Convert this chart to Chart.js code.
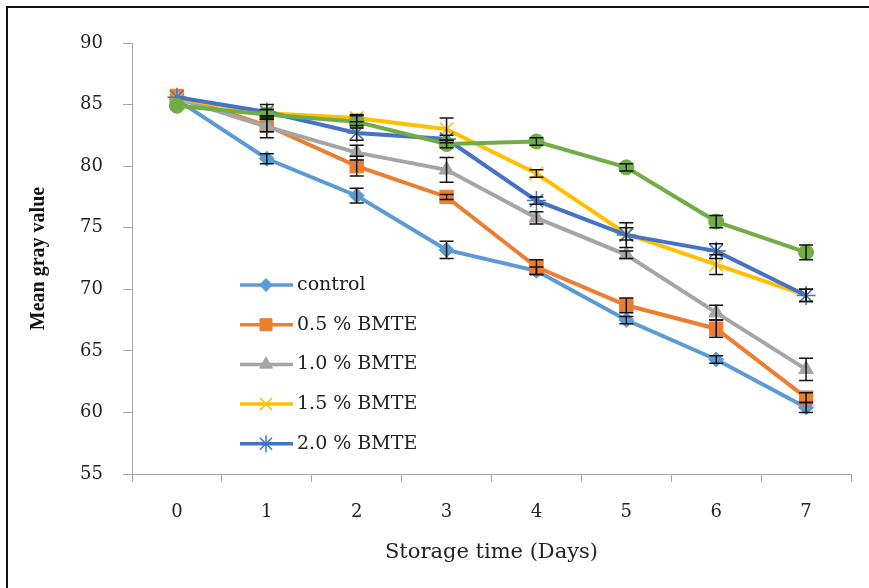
<!DOCTYPE html>
<html>
<head>
<meta charset="utf-8">
<script src="https://cdn.jsdelivr.net/npm/chart.js@4"></script>
<style>
  body { margin: 0; background: #fff; overflow: hidden; }
  #wrap { position: relative; width: 869px; height: 588px; }
  #frame { position: absolute; left: 6px; top: 6px; width: 900px; height: 600px;
           border-left: 2px solid #111; border-top: 2px solid #111; pointer-events: none; }
</style>
</head>
<body>
<div id="wrap">
  <canvas id="grayChart" width="869" height="588"></canvas>
  <div id="frame"></div>
</div>
<script>
// storage days
const days = ["0", "1", "2", "3", "4", "5", "6", "7"];

// mean gray value per series
const control = [85.4, 80.6, 77.6, 73.2, 71.5, 67.5, 64.3, 60.4];
const bmte05 = [85.7, 83.3, 80.0, 77.5, 71.8, 68.7, 66.8, 61.2];
const bmte10 = [85.5, 83.2, 81.1, 79.7, 75.8, 72.8, 68.1, 63.5];
const bmte15 = [85.5, 84.3, 83.9, 83.0, 79.4, 74.5, 72.0, 69.5];
const bmte20 = [85.6, 84.4, 82.7, 82.2, 77.2, 74.4, 73.1, 69.5];
const greenSeries = [84.9, 84.2, 83.6, 81.8, 82.0, 79.9, 75.5, 73.0];

// error bar half-lengths
const controlErr = [0, 0.4, 0.6, 0.7, 0.3, 0.3, 0.3, 0.4];
const bmte05Err = [0, 0.5, 0.8, 0.2, 0.6, 0.6, 0.7, 0.4];
const bmte10Err = [0, 0.9, 0.6, 1.0, 0.5, 0.3, 0.6, 0.9];
const bmte15Err = [0, 0.3, 0.3, 0.9, 0.3, 0.5, 0.8, 0.5];
const bmte20Err = [0, 0.6, 0.6, 0.3, 0.3, 1.0, 0.6, 0.5];
const greenErr = [0, 0.4, 0.5, 0.3, 0.3, 0.3, 0.5, 0.6];

const legendLabels = ["control", "0.5 % BMTE", "1.0 % BMTE", "1.5 % BMTE", "2.0 % BMTE"];
const yTicks = [55, 60, 65, 70, 75, 80, 85, 90];

const serif = "'DejaVu Serif', serif";

function series(label, data, err, color, style, radius, bw, order) {
  return {
    label: label,
    data: data,
    errors: err,
    borderColor: color,
    backgroundColor: color,
    borderWidth: 4,
    pointStyle: style,
    pointRadius: radius,
    pointBorderWidth: bw,
    pointBackgroundColor: color,
    pointBorderColor: color,
    tension: 0,
    order: order,
  };
}

const datasets = [
  series(legendLabels[0], control, controlErr, "#5B9BD5", "rectRot", 7.5, 1, 6),
  series(legendLabels[1], bmte05, bmte05Err, "#ED7D31", "rect", 9.5, 1, 5),
  series(legendLabels[2], bmte10, bmte10Err, "#A5A5A5", "triangle", 8.5, 1, 4),
  series(legendLabels[3], bmte15, bmte15Err, "#FFC000", "crossRot", 9.5, 1.5, 3),
  series(legendLabels[4], bmte20, bmte20Err, "#4472C4", "star", 9.5, 1.5, 2),
  series("", greenSeries, greenErr, "#70AD47", "circle", 7.5, 1, 1),
];

// black error bars with caps
const errorBars = {
  id: "errorBars",
  afterDatasetsDraw(chart) {
    const ctx = chart.ctx;
    const yScale = chart.scales.y;
    ctx.save();
    ctx.strokeStyle = "#111";
    ctx.lineWidth = 1.5;
    chart.data.datasets.forEach((ds, di) => {
      const meta = chart.getDatasetMeta(di);
      meta.data.forEach((pt, i) => {
        const e = ds.errors[i];
        if (!e) return;
        const top = yScale.getPixelForValue(ds.data[i] + e);
        const bot = yScale.getPixelForValue(ds.data[i] - e);
        ctx.beginPath();
        ctx.moveTo(pt.x, top);
        ctx.lineTo(pt.x, bot);
        ctx.moveTo(pt.x - 7, top);
        ctx.lineTo(pt.x + 7, top);
        ctx.moveTo(pt.x - 7, bot);
        ctx.lineTo(pt.x + 7, bot);
        ctx.stroke();
      });
    });
    ctx.restore();
  },
};

// legend placed inside the plot, lower left
const innerLegend = {
  id: "innerLegend",
  afterDraw(chart) {
    const ctx = chart.ctx;
    ctx.save();
    ctx.font = "19px " + serif;
    ctx.textBaseline = "middle";
    ctx.textAlign = "left";
    legendLabels.forEach((text, i) => {
      const ds = chart.data.datasets[i];
      const y = 285 + i * 39.7;
      ctx.strokeStyle = ds.borderColor;
      ctx.fillStyle = ds.backgroundColor;
      ctx.lineWidth = 3.5;
      ctx.beginPath();
      ctx.moveTo(240, y);
      ctx.lineTo(293, y);
      ctx.stroke();
      ctx.lineWidth = ds.pointBorderWidth;
      Chart.helpers.drawPoint(ctx, {
        pointStyle: ds.pointStyle,
        radius: ds.pointRadius - 1,
        rotation: 0,
        borderWidth: ds.pointBorderWidth,
      }, 266, y);
      ctx.fillStyle = "#222";
      ctx.fillText(text, 297, y);
    });
    ctx.restore();
  },
};

const ctx = document.getElementById("grayChart").getContext("2d");

const grayChart = new Chart(ctx, {
  type: "line",
  data: { labels: days, datasets: datasets },
  options: {
    responsive: false,
    animation: false,
    events: [],
    layout: { autoPadding: false, padding: { left: 0, top: 43, right: 18, bottom: 0 } },
    plugins: {
      legend: { display: false },
      tooltip: { enabled: false },
    },
    scales: {
      x: {
        offset: true,
        afterFit(scale) { scale.height = 114; },
        grid: {
          offset: true,
          drawOnChartArea: false,
          drawTicks: true,
          tickLength: 8,
          color: "#a6a6a6",
        },
        border: { display: true, color: "#a6a6a6", width: 1 },
        ticks: {
          padding: 20,
          color: "#222",
          font: { size: 18, family: serif },
        },
        title: {
          display: true,
          text: "Storage time (Days)",
          color: "#222",
          padding: { top: 0, bottom: 23 },
          font: { size: 21, family: serif },
        },
      },
      y: {
        min: 55,
        max: 90,
        afterFit(scale) { scale.width = 132; },
        afterBuildTicks(scale) { scale.ticks = yTicks.map((v) => ({ value: v })); },
        grid: {
          drawOnChartArea: false,
          drawTicks: true,
          tickLength: 9,
          color: "#a6a6a6",
        },
        border: { display: true, color: "#a6a6a6", width: 1 },
        ticks: {
          padding: 20,
          color: "#222",
          font: { size: 18, family: serif },
        },
        title: {
          display: true,
          text: "Mean gray value",
          color: "#111",
          padding: { top: 27, bottom: 0 },
          font: { size: 20, weight: "bold", family: "'Liberation Serif', serif" },
        },
      },
    },
  },
  plugins: [errorBars, innerLegend],
});
</script>
</body>
</html>
